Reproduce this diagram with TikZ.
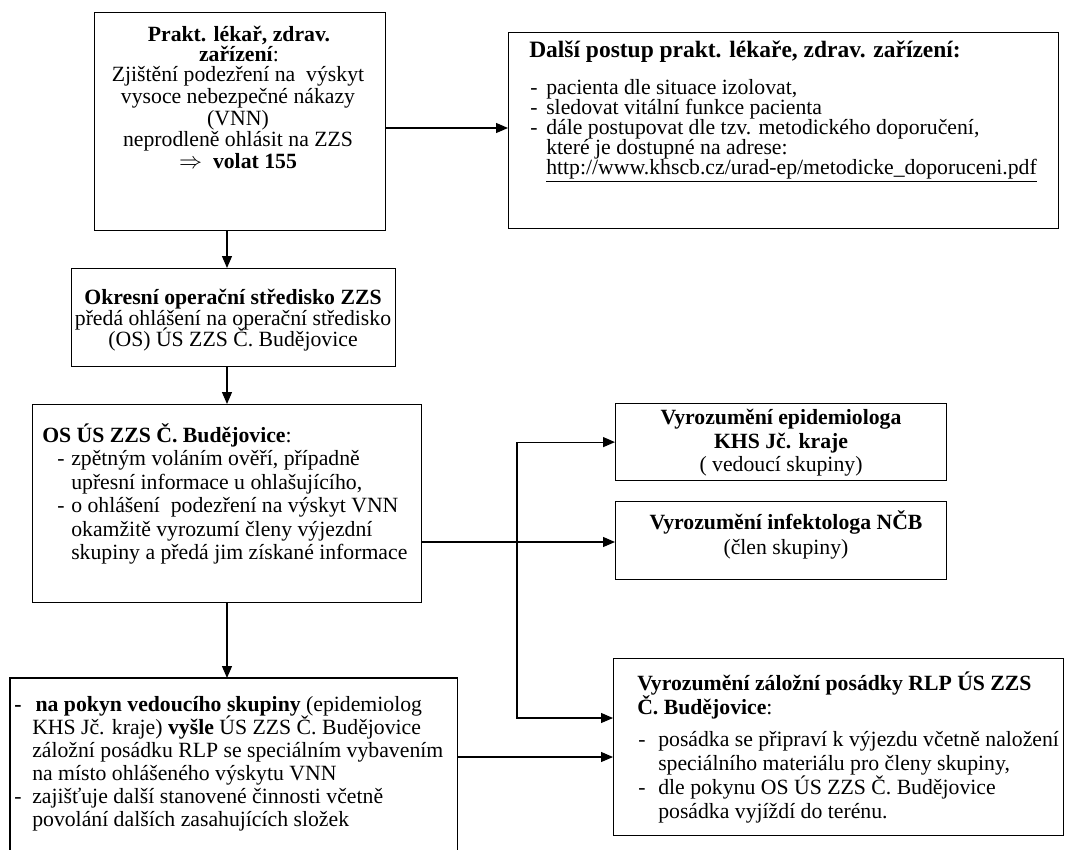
\documentclass[tikz,border=0pt]{standalone}
\usepackage{fontspec}
\setmainfont{Liberation Serif}
\usetikzlibrary{arrows.meta,calc}
\newcommand\tightln{\lineskiplimit=-50pt\relax}
\newcommand\sr{\rule{0pt}{16pt}}
\tikzset{
  box/.style={draw, line width=0.9pt, inner sep=0pt, anchor=north west},
  openbox/.style={draw=none, inner sep=0pt, anchor=north west},
  txt/.style={inner sep=0pt, font={\fontsize{16.3pt}{#1}\selectfont\tightln}},
  txt/.default=16pt,
  conn/.style={line width=0.9pt},
  arr/.style={line width=0.9pt, -{Triangle[length=9pt,width=7.5pt]}}
}
\begin{document}
\begin{tikzpicture}[x=0.75pt,y=-0.75pt]
\useasboundingbox (0,0) rectangle (1066,849);

% boxes
\node[box, minimum width=218.25pt, minimum height=163.5pt] (b1) at (94,12) {};
\node[box, minimum width=412.5pt, minimum height=147pt] (b2) at (508,32) {};
\node[box, minimum width=243pt, minimum height=73.5pt] (b3) at (71,268) {};
\node[box, minimum width=291.75pt, minimum height=148.5pt] (b4) at (32,404) {};
\node[openbox, minimum width=335.25pt, minimum height=128.25pt] (b5) at (10,678) {};
\draw[conn] (b5.south west) -- (b5.north west) -- (b5.north east) -- (b5.south east);
\node[box, minimum width=248.25pt, minimum height=57.75pt] (b6) at (615,403) {};
\node[box, minimum width=248.25pt, minimum height=58.5pt] (b7) at (615,501) {};
\node[box, minimum width=337.5pt, minimum height=132.75pt] (b8) at (613,658) {};

% texts
\node[txt=15pt, align=center, anchor=north] (h1) at (239,20)
  {\sr\textbf{Prakt. lékař, zdrav.}\\\textbf{zařízení}:};
\node[txt=16.3pt, align=center, anchor=north] (t1) at (238,60)
  {\sr Zjištění podezření na~ výskyt\\vysoce nebezpečné nákazy\\(VNN)\\neprodleně ohlásit na ZZS\\$\Rightarrow$\ \ \textbf{volat 155}};

\node[inner sep=0pt, font={\fontsize{17.6pt}{18pt}\selectfont}, align=left, anchor=north west] (h2) at (529,36)
  {\sr\textbf{Další postup prakt. lékaře, zdrav. zařízení:}};
\node[txt=15pt, align=left, anchor=north west] (t2) at (530,73)
  {\sr\makebox[12pt][l]{-}pacienta dle situace izolovat,\\
   \makebox[12pt][l]{-}sledovat vitální funkce pacienta\\
   \makebox[12pt][l]{-}dále postupovat dle tzv. metodického doporučení,\\
   \hspace*{12pt}které je dostupné na adrese:\\
   \hspace*{12pt}\underline{http://www.khscb.cz/urad-ep/metodicke\_doporuceni.pdf}};

\node[txt=15.75pt, align=center, anchor=north] (t3) at (233,283)
  {\sr\textbf{Okresní operační středisko ZZS}\\předá ohlášení na operační středisko\\(OS) ÚS ZZS Č. Budějovice};

\node[txt, align=left, anchor=north west] (h4) at (42,421)
  {\sr\textbf{OS ÚS ZZS Č. Budějovice}:};
\node[txt=17.6pt, align=left, anchor=north west] (t4) at (57,444)
  {\sr\makebox[10.5pt][l]{-}zpětným voláním ověří, případně\\
   \hspace*{10.5pt}upřesní informace u ohlašujícího,\\
   \makebox[10.5pt][l]{-}o ohlášení~ podezření na výskyt VNN\\
   \hspace*{10.5pt}okamžitě vyrozumí členy výjezdní\\
   \hspace*{10.5pt}skupiny a předá jim získané informace};

\node[txt=17.25pt, align=left, anchor=north west] (t5) at (14,690)
  {\sr\makebox[16pt][l]{\textbf{-}}\textbf{na pokyn vedoucího skupiny} (epidemiolog\\
   \hspace*{13.5pt}KHS Jč. kraje) \textbf{vyšle} ÚS ZZS Č. Budějovice\\
   \hspace*{13.5pt}záložní posádku RLP se speciálním vybavením\\
   \hspace*{13.5pt}na místo ohlášeného výskytu VNN\\
   \makebox[13.5pt][l]{-}zajišťuje další stanovené činnosti včetně\\
   \hspace*{13.5pt}povolání dalších zasahujících složek};

\node[txt=17.6pt, align=center, anchor=north] (t6) at (781,403)
  {\sr\textbf{Vyrozumění epidemiologa}\\\textbf{KHS Jč. kraje}\\( vedoucí skupiny)};
\node[txt=18.75pt, align=center, anchor=north] (t7) at (786,508)
  {\sr\textbf{Vyrozumění infektologa NČB}\\(člen skupiny)};

\node[txt=18pt, align=left, anchor=north west] (h8) at (637,669)
  {\sr\textbf{Vyrozumění záložní posádky RLP ÚS ZZS}\\\textbf{Č. Budějovice}:};
\node[txt=18pt, align=left, anchor=north west] (t8) at (638,725)
  {\sr\makebox[15pt][l]{-}posádka se připraví k výjezdu včetně naložení\\
   \hspace*{15pt}speciálního materiálu pro členy skupiny,\\
   \makebox[15pt][l]{-}dle pokynu OS ÚS ZZS Č. Budějovice\\
   \hspace*{15pt}posádka vyjíždí do terénu.};

% connectors
\coordinate (sp) at (227,0);
\coordinate (r1) at (0,128);
\coordinate (jn) at (517,0);
\coordinate (mid) at (0,542);
\coordinate (lo) at (0,718);
\coordinate (lo2) at (0,757);
\draw[arr] (b1.south -| sp) -- (b3.north -| sp);
\draw[arr] (b3.south -| sp) -- (b4.north -| sp);
\draw[arr] (b4.south -| sp) -- (b5.north -| sp);
\draw[arr] (b1.east |- r1) -- (b2.west |- r1);
\draw[arr] (b4.east |- mid) -- (b7.west |- mid);
\draw[arr] (jn |- mid) -- (jn |- b6.west) -- (b6.west);
\draw[arr] (jn |- mid) -- (jn |- lo) -- (b8.west |- lo);
\draw[arr] (b5.east |- lo2) -- (b8.west |- lo2);
\end{tikzpicture}
\end{document}
